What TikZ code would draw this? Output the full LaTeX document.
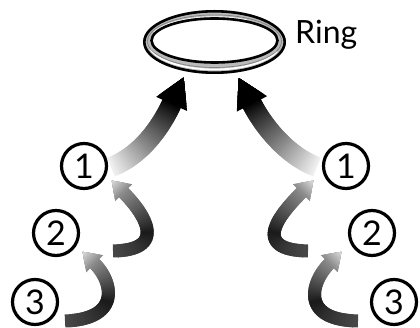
\documentclass[tikz,border=0pt]{standalone}
\usepackage{fontspec}
\setmainfont{Lato}
\usetikzlibrary{calc}

% Curved arrow whose shaft is shaded along its length.
% #1 start, #2 first control (relative to start), #3 second control (relative to end),
% #4 end of shaft (base of head), #5 shaft width,
% #6/#7/#8 black percentage at start / middle / end of shaft.
% Head size comes from \hlen and \hwid, its shading from \hbase (at the base) to \htip.
\newcommand\gradarrow[8]{%
  \path #1 .. controls +#2 and +#3 .. #4
    \foreach \k in {0,...,40}{ coordinate[pos=\k/40] (gp\k) };
  \foreach \k in {0,...,39}{%
    \pgfmathtruncatemacro\kn{\k+1}%
    \pgfmathtruncatemacro\kk{min(\k+2,40)}%
    \pgfmathsetmacro\gt{(\k+0.5)/40}%
    \pgfmathsetmacro\mix{\gt<0.45 ? #6+(#7-#6)*\gt/0.45 : #7+(#8-#7)*(\gt-0.45)/0.55}%
    \ifnum\kn<40
      \draw[line width=#5, draw=black!\mix, line join=round] (gp\k) -- (gp\kn) -- (gp\kk);
    \else
      \draw[line width=#5, draw=black!\mix] (gp\k) -- (gp\kn);
    \fi
  }%
  \coordinate (hb) at ($(gp40)!1pt!(gp39)$);
  \coordinate (ha) at ($(hb)!\hwid pt!90:(gp39)$);
  \coordinate (hc) at ($(hb)!\hwid pt!-90:(gp39)$);
  \coordinate (ht) at ($(gp40)!-\hlen pt!(gp39)$);
  \foreach \s in {0,...,9}{%
    \pgfmathsetmacro\f{1-\s/10}%
    \pgfmathsetmacro\hm{\hbase+(\htip-\hbase)*\s/9}%
    \fill[black!\hm] (ht) -- ($(ht)!\f!(ha)$) -- ($(ht)!\f!(hc)$) -- cycle;
  }%
}

\tikzset{
  num/.style={circle, draw, line width=3.2pt, minimum size=45pt, inner sep=0pt,
    font=\fontsize{34}{34}\selectfont},
  label text/.style={font=\fontsize{32}{32}\selectfont, inner sep=0pt}
}

\begin{document}
\begin{tikzpicture}[x=1pt, y=-1pt]
\useasboundingbox (0,0) rectangle (420,328);

% ring
\coordinate (ring) at (214.5,41);
\fill[black!27, even odd rule]
  ($(ring)+(0,1)$) ellipse [x radius=71.5, y radius=32]
  ($(ring)+(0,-0.5)$) ellipse [x radius=63, y radius=22];
\draw[white, line width=1.8pt] ($(ring)+(0,1)$) ++(20:66.5 and 27.5) arc [start angle=20, end angle=165, x radius=66.5, y radius=27.5];
\draw[white, line width=0.8pt] ($(ring)+(0,-0.5)$) ++(200:64.8 and 23.8) arc [start angle=200, end angle=300, x radius=64.8, y radius=23.8];
\draw[black!50, line width=0.7pt] ($(ring)+(0,0.2)$) ellipse [x radius=67, y radius=26.3];
\draw[black, line width=2.6pt] ($(ring)+(0,1)$) ellipse [x radius=70.2, y radius=30.7];
\draw[black, line width=2.6pt] ($(ring)+(0,-0.5)$) ellipse [x radius=63, y radius=22];
\node[label text, anchor=base west] (ringlabel) at (295,44) {Ring};

% numbered stations
\node[num] (c1l) at (84,166) {1};
\node[num] (c2l) at (56,233) {2};
\node[num] (c3l) at (35,302) {3};
\node[num] (c1r) at (346,166) {1};
\node[num] (c2r) at (372,233) {2};
\node[num] (c3r) at (394,302) {3};

% large arrows up to the ring
\def\hlen{28}\def\hwid{17}\def\hbase{100}\def\htip{100}
\gradarrow{($(c1l)+(27,1)$)}{(32,-12)}{(-9,20)}{($(ring)+(-42.5,62)$)}{20pt}{5}{50}{100}
\gradarrow{($(c1r)+(-29,1)$)}{(-32,-12)}{(10,20)}{($(ring)+(37,62)$)}{20pt}{5}{50}{100}

% small arrows between stations
\def\hlen{16}\def\hwid{12}\def\hbase{45}\def\htip{15}
\gradarrow{($(c2l)+(57,18)$)}{(57,-1)}{(20,20)}{($(c1l)+(39,26)$)}{13pt}{72}{90}{45}
\gradarrow{($(c3l)+(30,19)$)}{(58,-2)}{(18,17)}{($(c2l)+(38,30)$)}{13pt}{72}{90}{45}
\gradarrow{($(c2r)+(-64,18)$)}{(-60,-1)}{(-20,20)}{($(c1r)+(-44,26)$)}{13pt}{72}{90}{45}
\gradarrow{($(c3r)+(-36,19)$)}{(-60,-1)}{(-18,17)}{($(c2r)+(-42,30)$)}{13pt}{72}{90}{45}
\end{tikzpicture}
\end{document}
